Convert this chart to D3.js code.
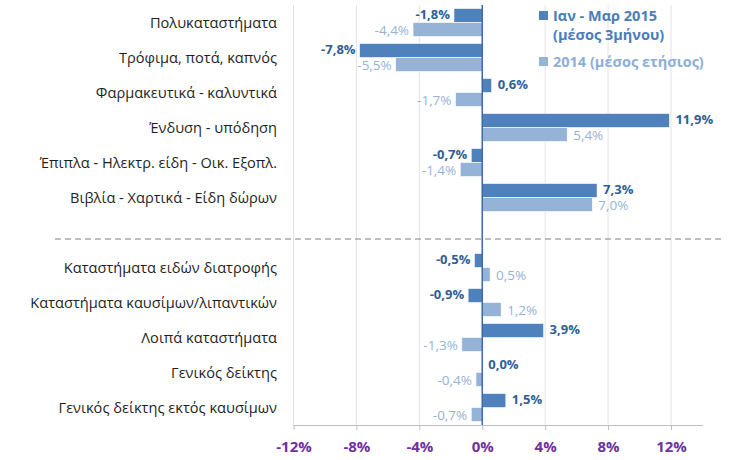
<!DOCTYPE html>
<html>
<head>
<meta charset="utf-8">
<script src="https://cdn.jsdelivr.net/npm/d3@7"></script>
<style>
  body { margin: 0; background: #fff; }
  text { font-family: "Open Sans", "Noto Sans", sans-serif; }
</style>
</head>
<body>
<div id="chart"></div>
<script>
// categories, top to bottom ("" = gap row for the divider)
const categories = [
  "Πολυκαταστήματα",
  "Τρόφιμα, ποτά, καπνός",
  "Φαρμακευτικά - καλυντικά",
  "Ένδυση - υπόδηση",
  "Έπιπλα - Ηλεκτρ. είδη - Οικ. Εξοπλ.",
  "Βιβλία - Χαρτικά - Είδη δώρων",
  "",
  "Καταστήματα ειδών διατροφής",
  "Καταστήματα καυσίμων/λιπαντικών",
  "Λοιπά καταστήματα",
  "Γενικός δείκτης",
  "Γενικός δείκτης εκτός καυσίμων"
];
const q1_2015 = [-1.8, -7.8, 0.6, 11.9, -0.7, 7.3, null, -0.5, -0.9, 3.9, 0.0, 1.5];
const avg2014 = [-4.4, -5.5, -1.7, 5.4, -1.4, 7.0, null, 0.5, 1.2, -1.3, -0.4, -0.7];
const xTicks = [-12, -8, -4, 0, 4, 8, 12];
const seriesNames = [["Ιαν - Μαρ 2015", "(μέσος 3μήνου)"], ["2014 (μέσος ετήσιος)"]];

const width = 731, height = 460;
const margin = {top: 5, right: 28, bottom: 35, left: 293};
const darkFill = "#4F81BD", lightFill = "#95B3D7";
const darkText = "#2F5E96", lightText = "#95B3D7";

const svg = d3.select("#chart").append("svg")
  .attr("width", width).attr("height", height);

const x = d3.scaleLinear().domain([-12, 12]).range([293.5, 671]);
const y = d3.scaleBand().domain(d3.range(categories.length))
  .range([margin.top, height - margin.bottom]);
const bh = 14;

// gridlines
svg.append("g").selectAll("line")
  .data(xTicks.filter(t => t !== 0))
  .join("line")
    .attr("x1", d => x(d)).attr("x2", d => x(d))
    .attr("y1", margin.top).attr("y2", y.range()[1])
    .attr("stroke", "#E3E3E3").attr("stroke-width", 1);

// bottom axis
const axisY = y.range()[1];
const xAxis = g => g
  .attr("transform", `translate(0,${axisY})`)
  .call(d3.axisBottom(x).tickValues(xTicks).tickFormat(d => d + "%").tickSize(5).tickPadding(11))
  .call(g => g.select(".domain").attr("stroke", "#BFBFBF").attr("d", `M293.5,0.5H703`))
  .call(g => g.selectAll(".tick line").attr("stroke", "#BFBFBF"))
  .call(g => g.selectAll(".tick text")
    .attr("fill", "#7030A0").style("font-size", "15px").style("font-weight", "bold"));
svg.append("g").call(xAxis);

// divider
svg.append("line")
  .attr("x1", 55).attr("x2", 725)
  .attr("y1", 239).attr("y2", 239)
  .attr("stroke", "#7F7F7F").attr("stroke-dasharray", "6,4").attr("stroke-width", 1);

const rows = categories.map((c, i) => ({c, i, a: q1_2015[i], b: avg2014[i]}))
  .filter(d => d.c !== "");

// category labels
svg.append("g").selectAll("text")
  .data(rows).join("text")
    .attr("x", 277)
    .attr("y", d => y(d.i) + y.bandwidth() / 2)
    .attr("dy", "0.35em")
    .attr("text-anchor", "end")
    .attr("fill", "#1F1F1F")
    .style("font-size", "14.6px")
    .text(d => d.c);

const fmt = v => v.toFixed(1).replace(".", ",") + "%";

function drawSeries(key, offset, nudge, fill, color, weight, size) {
  const g = svg.append("g");
  g.selectAll("rect").data(rows).join("rect")
    .attr("x", d => x(Math.min(0, d[key])))
    .attr("width", d => Math.abs(x(d[key]) - x(0)))
    .attr("y", d => y(d.i) + y.bandwidth() / 2 + offset)
    .attr("height", bh)
    .attr("fill", fill)
    .attr("stroke", "#fff").attr("stroke-width", 0.6);
  g.selectAll("text").data(rows).join("text")
    .attr("x", d => d[key] < 0 ? x(d[key]) - 4 : x(d[key]) + 6)
    .attr("y", d => y(d.i) + y.bandwidth() / 2 + offset + bh / 2 + nudge)
    .attr("dy", "0.35em")
    .attr("text-anchor", d => d[key] < 0 ? "end" : "start")
    .attr("fill", color)
    .style("font-size", size)
    .style("font-weight", weight)
    .text(d => fmt(d[key]));
}
drawSeries("a", -bh, -1, darkFill, darkText, "bold", "13px");
drawSeries("b", 0, 1, lightFill, lightText, "normal", "13.5px");

// zero line
svg.append("line")
  .attr("x1", x(0)).attr("x2", x(0))
  .attr("y1", margin.top).attr("y2", axisY)
  .attr("stroke", "#3A6BA8").attr("stroke-width", 1.5);

// legend
const legend = svg.append("g");
legend.append("rect").attr("x", 539).attr("y", 11).attr("width", 9).attr("height", 9).attr("fill", darkFill);
legend.append("text").attr("x", 553).attr("y", 21)
  .attr("fill", "#4A7EBB").style("font-size", "14.5px").style("font-weight", "bold")
  .selectAll("tspan").data(seriesNames[0]).join("tspan")
    .attr("x", 553).attr("dy", (d, i) => i ? 19 : 0).text(d => d);
legend.append("rect").attr("x", 539).attr("y", 57).attr("width", 9).attr("height", 9).attr("fill", lightFill);
legend.append("text").attr("x", 553).attr("y", 67)
  .attr("fill", "#8EAEDA").style("font-size", "14.5px").style("font-weight", "bold")
  .text(seriesNames[1][0]);
</script>
</body>
</html>
